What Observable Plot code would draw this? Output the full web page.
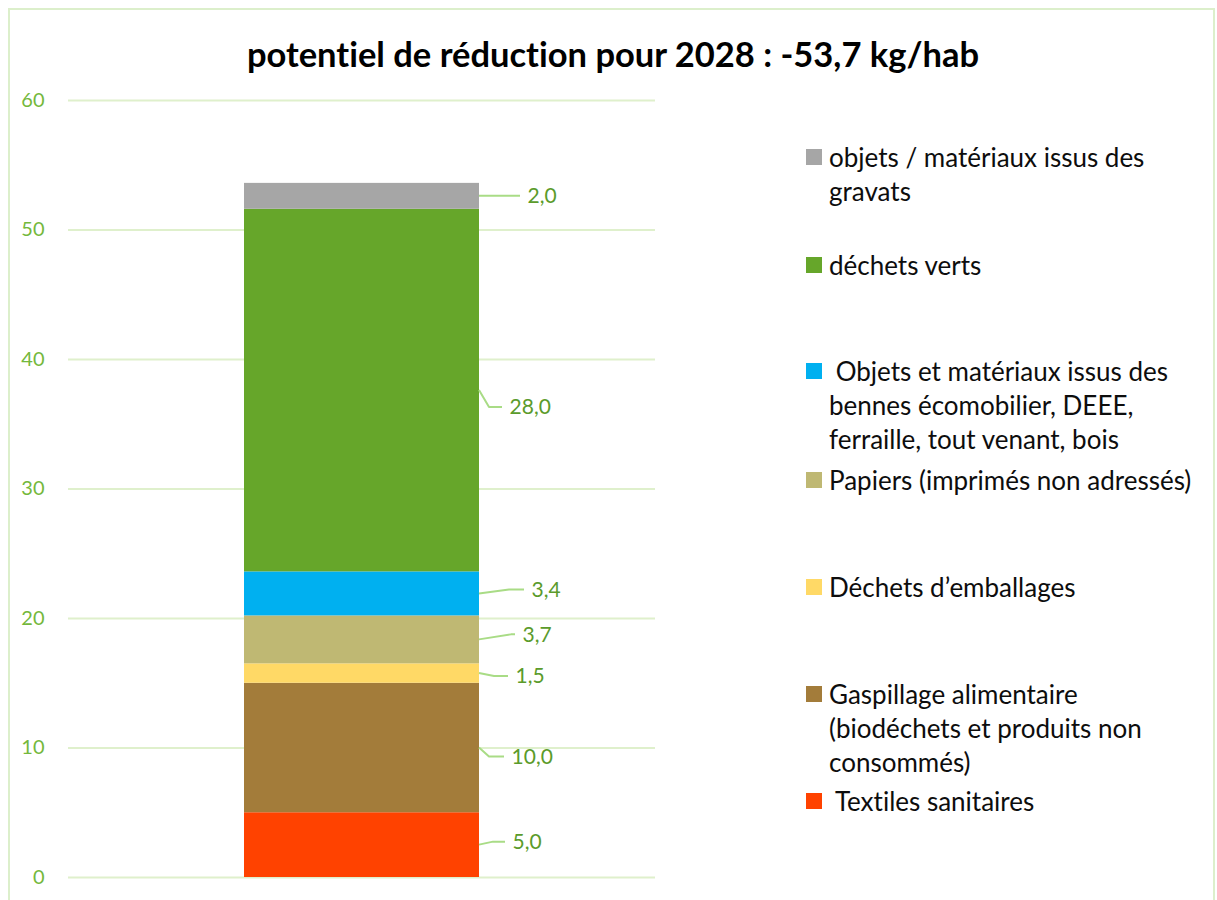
<!DOCTYPE html>
<html><head><meta charset="utf-8">
<script src="https://cdn.jsdelivr.net/npm/d3@7"></script>
<script src="https://cdn.jsdelivr.net/npm/@observablehq/plot@0.6"></script>
<style>
body{margin:0;background:#fff;}
#fig{position:relative;width:1217px;height:900px;overflow:hidden;background:#fff;font-family:Lato,"Open Sans",sans-serif;font-variant-ligatures:none;}
#fig svg text{font-variant-ligatures:none;}
#frame{position:absolute;left:8px;top:8px;width:1207px;height:920px;border:2px solid #dcefcb;box-sizing:border-box;}
#chart{position:absolute;left:0;top:0;}
#title{position:absolute;left:0;top:33px;width:1226px;text-align:center;line-height:42px;font-weight:700;font-size:34.5px;color:#000;}
.leg{position:absolute;left:806px;height:34px;}
.leg .sw{position:absolute;left:0;top:9px;width:16px;height:16px;}
.leg .tx{position:absolute;left:23px;top:0;white-space:pre;line-height:34px;font-size:26px;color:#0d0d0d;}
</style></head>
<body><div id="fig"><div id="frame"></div><div id="chart"></div><div id="title"></div><div id="legend"></div></div>
<script>
// ---- data ----
const title = "potentiel de réduction pour 2028 : -53,7 kg/hab";
const year = "2028";
const categories = [
  "Textiles sanitaires",
  "Gaspillage alimentaire (biodéchets et produits non consommés)",
  "Déchets d’emballages",
  "Papiers (imprimés non adressés)",
  "Objets et matériaux issus des bennes écomobilier, DEEE, ferraille, tout venant, bois",
  "déchets verts",
  "objets / matériaux issus des gravats"
];
const values = [5.0, 10.0, 1.5, 3.7, 3.4, 28.0, 2.0];
const colors = ["#ff4200", "#a37c3a", "#ffd966", "#bfb873", "#00b0f0", "#66a62a", "#a6a6a6"];
const legendText = [
  " Textiles sanitaires",
  "Gaspillage alimentaire\n(biodéchets et produits non\nconsommés)",
  "Déchets d’emballages",
  "Papiers (imprimés non adressés)",
  " Objets et matériaux issus des\nbennes écomobilier, DEEE,\nferraille, tout venant, bois",
  "déchets verts",
  "objets / matériaux issus des\ngravats"
];
const yTicks = [0, 10, 20, 30, 40, 50, 60];

// ---- layout (pixels) ----
const W = 1217, H = 900, mL = 68, mR = 562, mT = 100, mB = 23, pad = 0.428;
const labelLayout = [
  {dx: 33, dy: -3, bend: 14},
  {dx: 32, dy: 9, bend: 10},
  {dx: 36, dy: 3, bend: 15},
  {dx: 43, dy: -5, bend: 32},
  {dx: 52, dy: -4, bend: 30},
  {dx: 30, dy: 17, bend: 10},
  {dx: 48, dy: 0, bend: 38}
];
const legendCenters = [801, 694, 587, 480, 371, 265, 157];

const fmt = v => v.toFixed(1).replace(".", ",");
let acc = 0;
const rows = categories.map((c, i) => {
  const r = {year, category: c, value: values[i], y1: acc, y2: acc + values[i], mid: acc + values[i] / 2, i};
  acc += values[i];
  return r;
});

const bw = Plot.scale({x: {type: "band", domain: [year], range: [mL, W - mR], padding: pad}}).bandwidth;

const chart = Plot.plot({
  width: W, height: H, marginTop: mT, marginBottom: mB, marginLeft: mL, marginRight: mR,
  style: {fontFamily: "Lato, 'Open Sans', sans-serif", fontSize: "20px", color: "#74b83c", background: "transparent", overflow: "visible"},
  x: {domain: [year], padding: pad, axis: null},
  y: {domain: [0, 60], ticks: yTicks, tickSize: 0, tickPadding: 24, label: null, tickFormat: d => String(d)},
  color: {domain: categories, range: colors},
  marks: [
    Plot.ruleY(yTicks, {stroke: "#dff0cc", strokeWidth: 2}),
    Plot.barY(rows, {x: "year", y1: "y1", y2: "y2", fill: "category"}),
    ...rows.map((r, i) => Plot.text([r], {
      x: "year", y: "mid", text: d => fmt(d.value), textAnchor: "start",
      dx: bw / 2 + labelLayout[i].dx, dy: labelLayout[i].dy,
      fill: "#5b9b2b", fontSize: 21
    }))
  ]
});

// leader lines through the plot's scales
const xs = chart.scale("x"), ys = chart.scale("y");
const edge = xs.apply(year) + xs.bandwidth;
const g = d3.select(chart).append("g").attr("fill", "none").attr("stroke", "#a9dc86").attr("stroke-width", 2).attr("stroke-linejoin", "round");
rows.forEach((r, i) => {
  const L = labelLayout[i], y0 = ys.apply(r.mid), yl = y0 + L.dy;
  g.append("path").attr("d", `M${edge},${y0}L${edge + L.bend},${yl}L${edge + L.dx - 7},${yl}`);
});

document.getElementById("chart").appendChild(chart);
document.getElementById("title").textContent = title;

const leg = d3.select("#legend");
categories.forEach((c, i) => {
  const item = leg.append("div").attr("class", "leg").style("top", (legendCenters[i] - 17) + "px");
  item.append("div").attr("class", "sw").style("background", colors[i]);
  item.append("div").attr("class", "tx").text(legendText[i]);
});
</script>
</body></html>
